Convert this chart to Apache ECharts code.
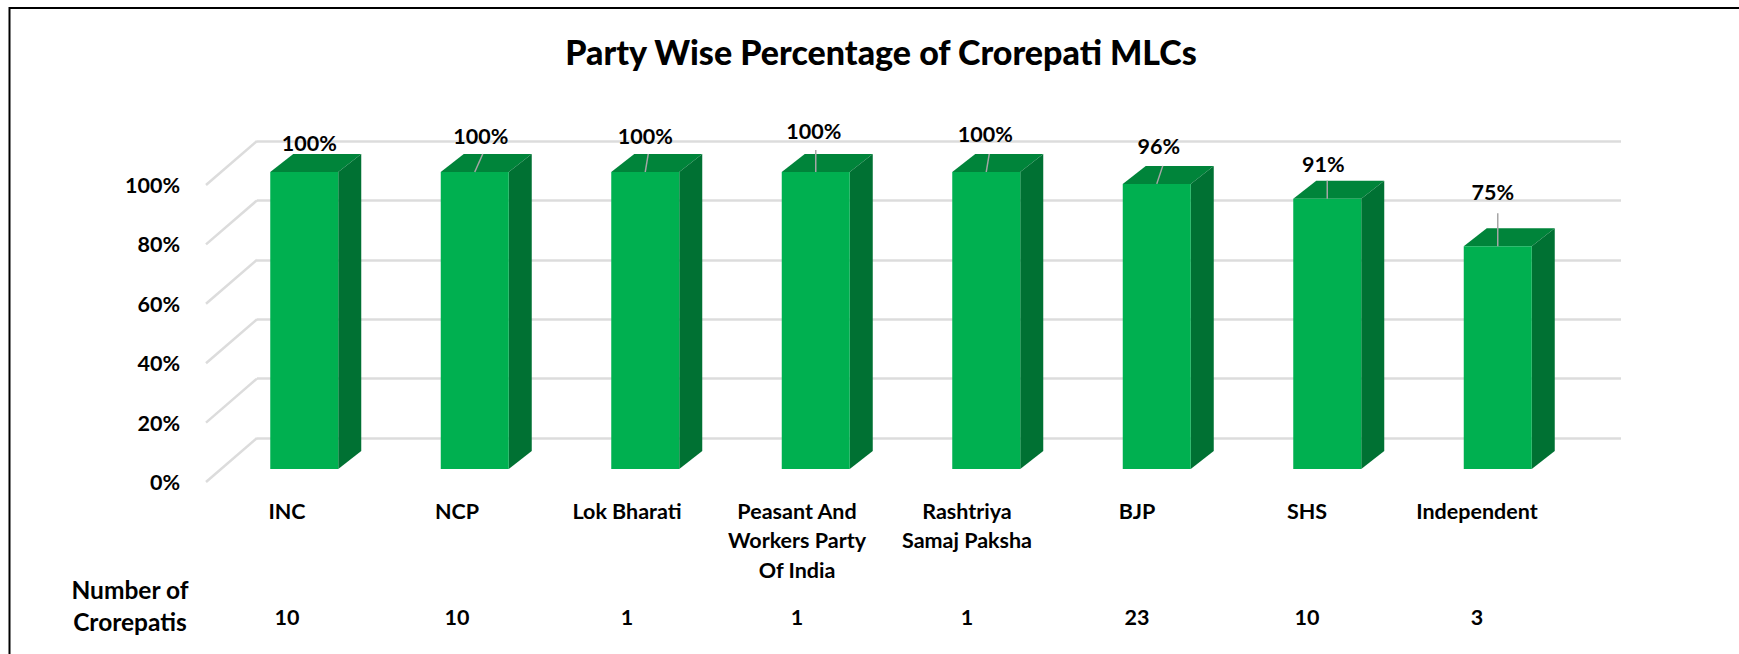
<!DOCTYPE html>
<html><head><meta charset="utf-8">
<style>html,body{margin:0;padding:0;background:#fff}#c{width:1739px;height:654px}</style>
<script src="https://cdn.jsdelivr.net/npm/echarts@6/dist/echarts.min.js"></script>
</head><body><div id="c"></div>
<script>
const parties = ['INC','NCP','Lok Bharati','Peasant And\nWorkers Party\nOf India','Rashtriya\nSamaj Paksha','BJP','SHS','Independent'];
const crorepatiPct = [100,100,100,100,100,96,91,75];
const crorepatiCount = [10,10,1,1,1,23,10,3];
const pctTicks = [0,20,40,60,80,100];

const FONT = 'Lato, Carlito, "Open Sans", sans-serif';
const WALL = {left:257, top:141, width:1364, height:297};
const FRONT_DY = 31, BAR_SHIFT = -38, BAR_W = 68, SIDE_DX = 23, SIDE_DY = 18;
const LABEL_NUDGE = [[5,-29],[6,-36],[0,-36],[-2,-41],[-1,-38],[2,-38],[-4,-35],[-5,-54]];
const LEADER_NUDGE = [null,[8,-18],[3,-18],[0,-22],[3,-18],[6,-18],[0,-18],[0,-33]];

const chart = echarts.init(document.getElementById('c'),null,{renderer:'svg'});
chart.setOption({
  animation:false,
  backgroundColor:'#fff',
  title:[
    {text:'Party Wise Percentage of Crorepati MLCs',left:876,top:29,textAlign:'center',
     textStyle:{fontFamily:FONT,fontSize:34,fontWeight:900,color:'#000'}},
    {text:'Number of\nCrorepatis',left:125,top:568,textAlign:'center',
     textStyle:{fontFamily:FONT,fontSize:24.5,fontWeight:'bold',color:'#000',lineHeight:32}}
  ],
  graphic:[{type:'polyline',shape:{points:[[9.5,654],[9.5,8],[1739,8]]},
    style:{stroke:'#000',lineWidth:2,fill:null},silent:true}],
  grid:[
    {left:WALL.left,top:WALL.top,width:WALL.width,height:WALL.height},
    {left:202,top:WALL.top+44,width:1360,height:WALL.height}
  ],
  xAxis:[
    {type:'category',gridIndex:0,data:parties,show:false},
    {type:'category',gridIndex:1,data:parties,position:'bottom',axisLine:{show:false},axisTick:{show:false},
     axisLabel:{interval:0,fontFamily:FONT,fontSize:21.5,fontWeight:'bold',color:'#000',lineHeight:29.5,margin:14,verticalAlign:'top'}},
    {type:'category',gridIndex:1,data:crorepatiCount.map(String),position:'bottom',offset:124,axisLine:{show:false},axisTick:{show:false},
     axisLabel:{interval:0,fontFamily:FONT,fontSize:21.5,fontWeight:'bold',color:'#000',margin:0,verticalAlign:'top'}}
  ],
  yAxis:[
    {type:'value',gridIndex:0,min:0,max:100,interval:20,axisLabel:{show:false},axisLine:{show:false},axisTick:{show:false},
     splitLine:{lineStyle:{color:'#DCDCDC',width:2.5}}},
    {type:'value',gridIndex:1,min:0,max:100,interval:20,axisLine:{show:false},axisTick:{show:false},splitLine:{show:false},
     axisLabel:{formatter:'{value}%',fontFamily:FONT,fontSize:21.5,fontWeight:'bold',color:'#000',margin:22}}
  ],
  series:[
    {type:'custom',name:'depth',xAxisIndex:0,yAxisIndex:0,silent:true,z:1,data:pctTicks.map(v=>[0,v]),
     renderItem(params,api){
       const y=api.coord([0,api.value(1)])[1], x=params.coordSys.x;
       return {type:'line',shape:{x1:x,y1:y,x2:x-51,y2:y+44},style:{stroke:'#DCDCDC',lineWidth:2.5}};
     }},
    {type:'custom',name:'Crorepati MLCs (%)',xAxisIndex:0,yAxisIndex:0,silent:true,z:3,
     data:crorepatiPct.map((v,i)=>[i,v]),
     renderItem(params,api){
       const i=api.value(0), v=api.value(1);
       const top=api.coord([i,v]), base=api.coord([i,0]);
       const x0=top[0]+BAR_SHIFT-BAR_W/2, x1=x0+BAR_W, yt=top[1]+FRONT_DY, yb=base[1]+FRONT_DY;
       const cx=(x0+x1)/2;
       const ch=[
         {type:'polygon',shape:{points:[[x0,yt],[x1,yt],[x1+SIDE_DX,yt-SIDE_DY],[x0+SIDE_DX,yt-SIDE_DY]]},style:{fill:'#00843A'}},
         {type:'polygon',shape:{points:[[x1,yt],[x1+SIDE_DX,yt-SIDE_DY],[x1+SIDE_DX,yb-SIDE_DY],[x1,yb]]},style:{fill:'#007133'}},
         {type:'rect',shape:{x:x0,y:yt,width:BAR_W,height:yb-yt},style:{fill:'#00B050'}}
       ];
       const L=LEADER_NUDGE[i];
       if(L) ch.push({type:'line',shape:{x1:cx,y1:yt,x2:cx+L[0],y2:yt+L[1]},style:{stroke:'#A6A6A6',lineWidth:1.5}});
       const N=LABEL_NUDGE[i];
       ch.push({type:'text',style:{text:v+'%',x:cx+N[0],y:yt+N[1],textAlign:'center',textVerticalAlign:'middle',
         fontFamily:FONT,fontSize:21.5,fontWeight:'bold',fill:'#000'}});
       return {type:'group',children:ch};
     }},
    {type:'custom',name:'layout',xAxisIndex:1,yAxisIndex:1,data:[],renderItem(){return null}},
    {type:'custom',name:'count',xAxisIndex:2,yAxisIndex:1,data:[],renderItem(){return null}}
  ]
});
</script></body></html>
